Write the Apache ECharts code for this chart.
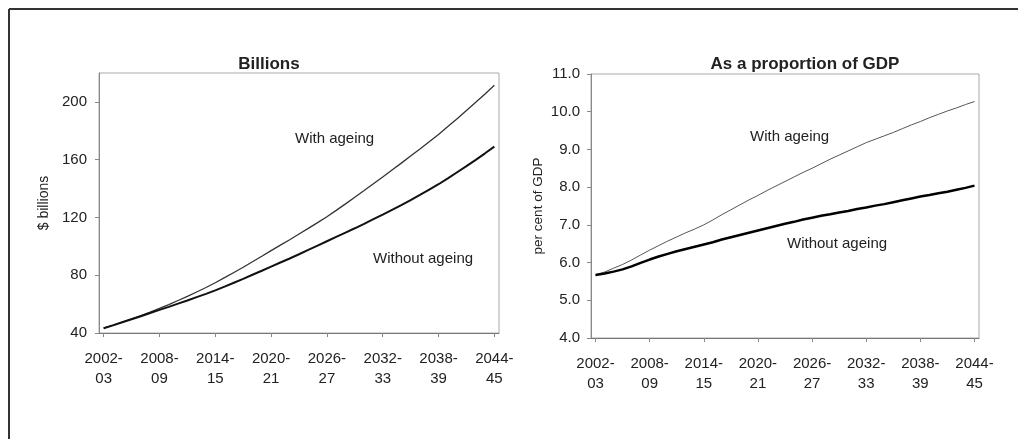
<!DOCTYPE html>
<html>
<head>
<meta charset="utf-8">
<script src="https://cdn.jsdelivr.net/npm/echarts@6/dist/echarts.min.js"></script>
<style>
html,body{margin:0;padding:0;background:#fff;}
#c{width:1018px;height:439px;}
</style>
</head>
<body>
<div id="c"></div>
<script>
const categories = ["2002-03","2003-04","2004-05","2005-06","2006-07","2007-08","2008-09","2009-10","2010-11","2011-12","2012-13","2013-14","2014-15","2015-16","2016-17","2017-18","2018-19","2019-20","2020-21","2021-22","2022-23","2023-24","2024-25","2025-26","2026-27","2027-28","2028-29","2029-30","2030-31","2031-32","2032-33","2033-34","2034-35","2035-36","2036-37","2037-38","2038-39","2039-40","2040-41","2041-42","2042-43","2043-44","2044-45"];

const billionsWithAgeing = [43.3,45.4,47.6,49.8,52.1,54.5,57.0,59.7,62.5,65.3,68.4,71.5,74.8,78.3,81.9,85.5,89.3,93.1,97.0,100.8,104.6,108.5,112.4,116.4,120.5,124.9,129.4,134.0,138.6,143.3,148.0,152.8,157.6,162.5,167.4,172.4,177.5,182.9,188.4,194.0,199.7,205.5,211.5];
const billionsWithoutAgeing = [43.3,45.3,47.4,49.5,51.6,53.8,56.0,58.1,60.3,62.5,64.8,67.1,69.5,72.1,74.8,77.5,80.3,83.1,86.0,88.8,91.6,94.5,97.5,100.5,103.5,106.5,109.5,112.5,115.6,118.8,122.0,125.3,128.6,132.0,135.6,139.3,143.0,147.1,151.3,155.5,159.9,164.4,169.0];

const gdpWithAgeing = [5.67,5.75,5.85,5.95,6.07,6.20,6.33,6.45,6.57,6.68,6.79,6.89,7.00,7.13,7.27,7.40,7.53,7.66,7.78,7.91,8.03,8.15,8.27,8.39,8.50,8.62,8.74,8.85,8.96,9.07,9.18,9.27,9.36,9.45,9.55,9.65,9.74,9.84,9.93,10.02,10.10,10.19,10.27];
const gdpWithoutAgeing = [5.67,5.71,5.76,5.82,5.90,5.99,6.08,6.16,6.23,6.30,6.36,6.42,6.48,6.54,6.61,6.67,6.73,6.79,6.85,6.91,6.97,7.03,7.08,7.14,7.19,7.24,7.28,7.33,7.37,7.42,7.46,7.51,7.55,7.60,7.65,7.70,7.75,7.79,7.84,7.88,7.93,7.98,8.04];

const titles = ["Billions", "As a proportion of GDP"];
const yNames = ["$ billions", "per cent of GDP"];
const seriesNames = ["With ageing", "Without ageing"];

const FONT = "'Liberation Sans', Arial, sans-serif";
const TXT = '#222';

function xAxis(gi){
  return {
    type:'category', gridIndex:gi, data:categories, boundaryGap:true,
    axisLine:{show:true, lineStyle:{color:'#777', width:1}},
    axisTick:{show:true, interval:5, alignWithLabel:true, length:4, lineStyle:{color:'#888'}},
    axisLabel:{interval:5, fontSize:15, fontFamily:FONT, color:TXT, lineHeight:20, margin:16,
      formatter:function(v){ const p=v.split('-'); return p[0]+'-\n'+p[1]; }},
    splitLine:{show:false}
  };
}

const option = {
  animation:false,
  backgroundColor:'#fff',
  title:[
    {text:titles[0], left:264, top:51, textAlign:'center', textStyle:{fontFamily:FONT, fontSize:17, fontWeight:'bold', color:TXT}},
    {text:titles[1], left:800, top:51, textAlign:'center', textStyle:{fontFamily:FONT, fontSize:17, fontWeight:'bold', color:TXT}}
  ],
  grid:[
    {left:99, right:519, top:73, bottom:106, show:true, borderColor:'#aaa', borderWidth:1, backgroundColor:'#fff'},
    {left:591, right:39, top:74, bottom:101, show:true, borderColor:'#aaa', borderWidth:1, backgroundColor:'#fff'}
  ],
  xAxis:[xAxis(0), xAxis(1)],
  yAxis:[
    {type:'value', gridIndex:0, min:40, max:220, interval:40,
     name:yNames[0], nameLocation:'middle', nameGap:48, nameRotate:90,
     nameTextStyle:{fontFamily:FONT, fontSize:14, color:TXT},
     axisLine:{show:true, lineStyle:{color:'#888'}},
     axisTick:{show:true, length:4, lineStyle:{color:'#888'}},
     axisLabel:{fontSize:15, fontFamily:FONT, color:TXT, margin:12, showMaxLabel:false,
       formatter:function(v){ return v>=220 ? '' : String(v); }},
     splitLine:{show:false}},
    {type:'value', gridIndex:1, min:4, max:11, interval:1,
     name:yNames[1], nameLocation:'middle', nameGap:46, nameRotate:90,
     nameTextStyle:{fontFamily:FONT, fontSize:13.5, color:TXT},
     axisLine:{show:true, lineStyle:{color:'#888'}},
     axisTick:{show:true, length:4, lineStyle:{color:'#888'}},
     axisLabel:{fontSize:15, fontFamily:FONT, color:TXT, margin:11,
       formatter:function(v){ return v.toFixed(1); }},
     splitLine:{show:false}}
  ],
  series:[
    {name:seriesNames[0], type:'line', xAxisIndex:0, yAxisIndex:0, data:billionsWithAgeing, showSymbol:false, symbol:'none', lineStyle:{color:'#333', width:1.3}},
    {name:seriesNames[1], type:'line', xAxisIndex:0, yAxisIndex:0, data:billionsWithoutAgeing, showSymbol:false, symbol:'none', lineStyle:{color:'#111', width:2}},
    {name:seriesNames[0], type:'line', xAxisIndex:1, yAxisIndex:1, data:gdpWithAgeing, showSymbol:false, symbol:'none', lineStyle:{color:'#555', width:1}},
    {name:seriesNames[1], type:'line', xAxisIndex:1, yAxisIndex:1, data:gdpWithoutAgeing, showSymbol:false, symbol:'none', lineStyle:{color:'#000', width:2.5}}
  ],
  graphic:[
    {type:'line', shape:{x1:9, y1:9, x2:1018, y2:9}, style:{stroke:'#333', lineWidth:2}, silent:true},
    {type:'line', shape:{x1:9, y1:9, x2:9, y2:439}, style:{stroke:'#333', lineWidth:2}, silent:true},
    {type:'text', left:295, top:131, style:{text:seriesNames[0], font:'15px '+FONT, fill:TXT}},
    {type:'text', left:373, top:251, style:{text:seriesNames[1], font:'15px '+FONT, fill:TXT}},
    {type:'text', left:750, top:129, style:{text:seriesNames[0], font:'15px '+FONT, fill:TXT}},
    {type:'text', left:787, top:236, style:{text:seriesNames[1], font:'15px '+FONT, fill:TXT}}
  ]
};

const chart = echarts.init(document.getElementById('c'), null, {renderer:'canvas'});
chart.setOption(option);
</script>
</body>
</html>
